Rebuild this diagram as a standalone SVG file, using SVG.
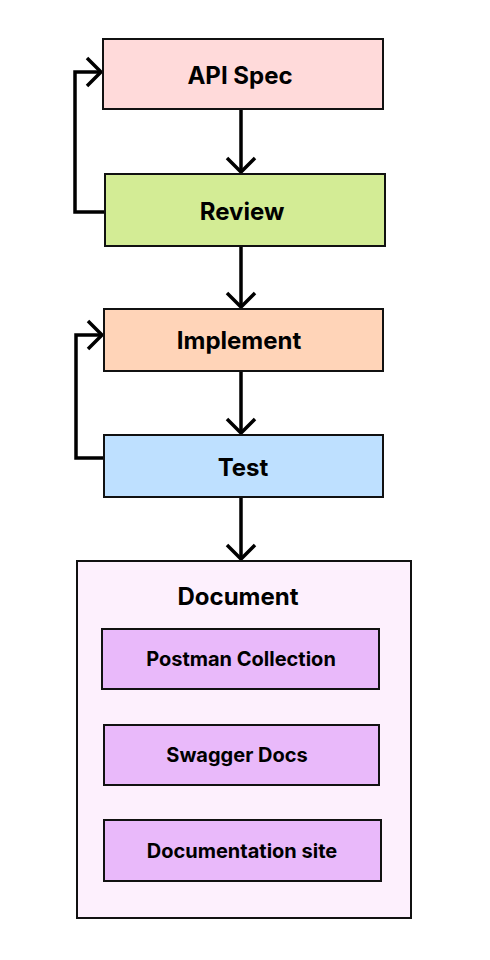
<svg xmlns="http://www.w3.org/2000/svg" width="490" height="960" viewBox="0 0 490 960">
<style>
.box{stroke:#111;stroke-width:2}
.t{font-family:Inter,"Liberation Sans",sans-serif;font-weight:700;fill:#000;text-anchor:middle;dominant-baseline:central}
.c{fill:none;stroke:#000;stroke-width:3.5}
</style>
<defs>
<marker id="a" viewBox="0 0 32 32" refX="16" refY="16" markerWidth="32" markerHeight="32" markerUnits="userSpaceOnUse" orient="auto">
<path d="M2,2 L16,16 L2,30" fill="none" stroke="#000" stroke-width="3.5"/>
</marker>
</defs>
<rect width="490" height="960" fill="#fff"/>
<g id="connectors">
<path class="c" d="M241,109 V172" marker-end="url(#a)"/>
<path class="c" d="M241,246 V307" marker-end="url(#a)"/>
<path class="c" d="M241,371 V433" marker-end="url(#a)"/>
<path class="c" d="M241,497 V559" marker-end="url(#a)"/>
<path class="c" d="M105,212 H75 V72 H101" marker-end="url(#a)"/>
<path class="c" d="M104,458 H76 V335 H102" marker-end="url(#a)"/>
</g>
<g id="api-spec"><rect class="box" x="103" y="39" width="280" height="70" fill="#FFDADA"/><text class="t" x="240" y="75" font-size="24">API Spec</text></g>
<g id="review"><rect class="box" x="105" y="174" width="280" height="72" fill="#D3EC95"/><text class="t" x="242" y="211" font-size="24">Review</text></g>
<g id="implement"><rect class="box" x="104" y="309" width="279" height="62" fill="#FFD4B8"/><text class="t" x="239" y="340" font-size="24">Implement</text></g>
<g id="test"><rect class="box" x="104" y="435" width="279" height="62" fill="#BEE0FF"/><text class="t" x="243" y="467" font-size="24">Test</text></g>
<g id="document"><rect class="box" x="77" y="561" width="334" height="357" fill="#FDF0FD"/><text class="t" x="238" y="596" font-size="24">Document</text>
<g id="postman"><rect class="box" x="102" y="629" width="277" height="60" fill="#E9B9FA"/><text class="t" x="241" y="659" font-size="20">Postman Collection</text></g>
<g id="swagger"><rect class="box" x="104" y="725" width="275" height="60" fill="#E9B9FA"/><text class="t" x="237" y="755" font-size="20">Swagger Docs</text></g>
<g id="docsite"><rect class="box" x="104" y="820" width="277" height="61" fill="#E9B9FA"/><text class="t" x="242" y="851" font-size="20">Documentation site</text></g>
</g>
</svg>
